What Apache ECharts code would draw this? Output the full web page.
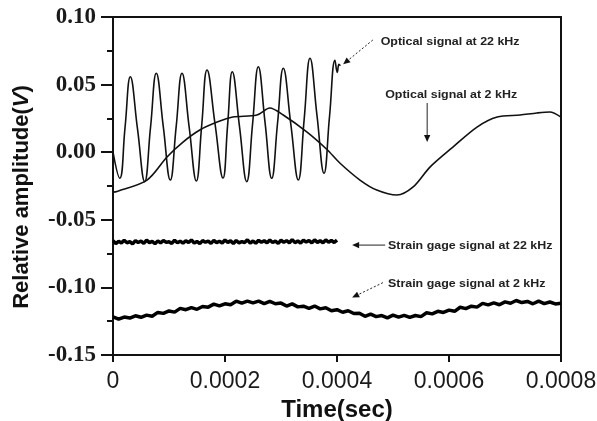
<!DOCTYPE html>
<html>
<head>
<meta charset="utf-8">
<script src="https://cdn.jsdelivr.net/npm/echarts@6/dist/echarts.min.js"></script>
<style>
  html, body { margin: 0; padding: 0; background: #fff; }
  #chart { width: 597px; height: 421px; }
</style>
</head>
<body>
<div id="chart"></div>
<script>
// Optical signal at 22 kHz: peaks, troughs and mid-swing crossings (time in s, amplitude in V)
const optical22kTime = [
  0, 0.0000120, 0.0000215, 0.0000309, 0.0000438, 0.0000566, 0.0000670, 0.0000773,
  0.0000898, 0.0001023, 0.0001128, 0.0001232, 0.0001360, 0.0001488, 0.0001584,
  0.0001679, 0.0001822, 0.0001964, 0.0002047, 0.0002130, 0.0002259, 0.0002388,
  0.0002492, 0.0002595, 0.0002715, 0.0002834, 0.0002938, 0.0003041, 0.0003175,
  0.0003309, 0.0003414, 0.0003518, 0.0003643, 0.0003768, 0.0003866, 0.0003964,
  0.0004005, 0.0004035, 0.0004060
];
const optical22kValue = [
  0.000, -0.0193, 0.0183, 0.0558, 0.0170, -0.0218, 0.0183, 0.0584,
  0.0189, -0.0206, 0.0189, 0.0584, 0.0186, -0.0213, 0.0198,
  0.0608, 0.0209, -0.0191, 0.0202, 0.0595, 0.0189, -0.0218,
  0.0207, 0.0632, 0.0220, -0.0193, 0.0214, 0.0621, 0.0208,
  -0.0206, 0.0245, 0.0695, 0.0270, -0.0156, 0.0262, 0.0680,
  0.0590, 0.0650, 0.0640
];

// Optical signal at 2 kHz
const optical2kTime = [
  0, 0.0000071, 0.0000607, 0.0000964, 0.000125, 0.000155, 0.000186, 0.000214,
  0.000257, 0.000280, 0.000304, 0.000346, 0.000382, 0.000405, 0.000441, 0.000471,
  0.000507, 0.000536, 0.000566, 0.000607, 0.000650, 0.000686, 0.000727, 0.000757,
  0.000780, 0.000800
];
const optical2kValue = [
  -0.0295, -0.0290, -0.0206, -0.0035, 0.0075, 0.0164, 0.0223, 0.0260,
  0.0275, 0.0327, 0.0275, 0.0150, 0.0020, -0.0080, -0.0206, -0.0280,
  -0.0317, -0.0257, -0.0110, 0.0038, 0.0186, 0.0260, 0.0275, 0.0290,
  0.0297, 0.0260
];

// Strain gage signal at 22 kHz, sampled every 5 microseconds from t = 0
const strain22kStep = 0.000005;
const strain22kValue = [
  -0.0655, -0.0676, -0.0659, -0.0672, -0.0652, -0.0670, -0.0661, -0.0678, -0.0654, -0.0668,
  -0.0657, -0.0674, -0.0650, -0.0669, -0.0660, -0.0677, -0.0656, -0.0671, -0.0653, -0.0667,
  -0.0662, -0.0675, -0.0651, -0.0670, -0.0658, -0.0673, -0.0655, -0.0668, -0.0649, -0.0672,
  -0.0660, -0.0676, -0.0654, -0.0666, -0.0657, -0.0674, -0.0652, -0.0669, -0.0659, -0.0671,
  -0.0650, -0.0667, -0.0656, -0.0675, -0.0653, -0.0670, -0.0661, -0.0668, -0.0648, -0.0672,
  -0.0657, -0.0673, -0.0652, -0.0666, -0.0655, -0.0671, -0.0649, -0.0668, -0.0658, -0.0674,
  -0.0651, -0.0667, -0.0654, -0.0670, -0.0647, -0.0669, -0.0656, -0.0672, -0.0650, -0.0665,
  -0.0653, -0.0671, -0.0648, -0.0667, -0.0655, -0.0670, -0.0649, -0.0666, -0.0652, -0.0668,
  -0.0650
];

// Strain gage signal at 2 kHz, sampled every 10 microseconds from t = 0
const strain2kStep = 0.00001;
const strain2kValue = [
  -0.1218, -0.1235, -0.1219, -0.1227, -0.1210, -0.1221, -0.1205, -0.1213, -0.1185, -0.1192,
  -0.1174, -0.1183, -0.1155, -0.1165, -0.1149, -0.1162, -0.1141, -0.1146, -0.1124, -0.1137,
  -0.1121, -0.1128, -0.1102, -0.1117, -0.1102, -0.1115, -0.1101, -0.1120, -0.1103, -0.1121,
  -0.1116, -0.1138, -0.1122, -0.1144, -0.1139, -0.1155, -0.1138, -0.1159, -0.1151, -0.1173,
  -0.1165, -0.1184, -0.1173, -0.1193, -0.1191, -0.1214, -0.1197, -0.1216, -0.1208, -0.1225,
  -0.1205, -0.1220, -0.1207, -0.1222, -0.1208, -0.1216, -0.1188, -0.1196, -0.1177, -0.1185,
  -0.1168, -0.1177, -0.1147, -0.1157, -0.1139, -0.1146, -0.1118, -0.1129, -0.1115, -0.1128,
  -0.1107, -0.1117, -0.1097, -0.1112, -0.1104, -0.1121, -0.1102, -0.1120, -0.1108, -0.1122,
  -0.1118
];

// Axis tick labels
const xTickLabels = ['0', '0.0002', '0.0004', '0.0006', '0.0008'];
const yTickLabels = ['-0.15', '-0.10', '-0.05', '0.00', '0.05', '0.10'];

// Callouts: label anchor, arrow start and arrow tip, in data units
const callouts = [
  { text: 'Optical signal at 22 kHz', at: [0.000478, 0.0815], from: [0.000464, 0.0830], to: [0.000411, 0.0650], dashed: true },
  { text: 'Optical signal at 2 kHz', at: [0.000486, 0.0423], from: [0.000561, 0.0364], to: [0.000561, 0.0075], dashed: false },
  { text: 'Strain gage signal at 22 kHz', at: [0.000491, -0.0695], from: [0.000486, -0.0687], to: [0.000427, -0.0687], dashed: false },
  { text: 'Strain gage signal at 2 kHz', at: [0.000491, -0.0975], from: [0.000482, -0.0965], to: [0.000427, -0.1075], dashed: true }
];

function pairs(ts, vs) { return vs.map((v, i) => [ts[i], v]); }
function sampled(step, vs) { return vs.map((v, i) => [i * step, v]); }

const chart = echarts.init(document.getElementById('chart'), null, { renderer: 'canvas' });

const lineBase = { type: 'line', showSymbol: false, symbol: 'none', animation: false, silent: true, xAxisIndex: 0, yAxisIndex: 0 };
const frameLine = { show: true, onZero: false, lineStyle: { color: '#111', width: 2 } };
const titleFont = { fontFamily: 'Liberation Sans', fontWeight: 'bold', fontSize: 22, color: '#111' };

chart.setOption({
  backgroundColor: '#fff',
  animation: false,
  grid: { left: 113, right: 36, top: 17, bottom: 66, containLabel: false, outerBoundsMode: 'none' },
  xAxis: [{
    type: 'value', position: 'bottom', min: 0, max: 0.0008, interval: 0.0002,
    name: 'Time(sec)', nameLocation: 'middle', nameGap: 40,
    nameTextStyle: { fontFamily: 'Liberation Sans', fontWeight: 'bold', fontSize: 24, color: '#111' },
    axisLine: frameLine,
    axisTick: { show: true, inside: false, length: 7, lineStyle: { color: '#111', width: 2 } },
    axisLabel: {
      margin: 15, fontFamily: 'Liberation Sans', fontSize: 23, color: '#1a1a1a',
      formatter: (v) => xTickLabels[Math.round(v / 0.0002)]
    },
    splitLine: { show: false }
  }, {
    type: 'value', position: 'top', min: 0, max: 0.0008,
    axisLine: frameLine, axisTick: { show: false }, axisLabel: { show: false }, splitLine: { show: false }
  }],
  yAxis: [{
    type: 'value', position: 'left', min: -0.15, max: 0.10, interval: 0.05,
    name: '{b|Relative amplitude(}{i|V}{b|)}', nameLocation: 'middle', nameGap: 80,
    nameTextStyle: Object.assign({}, titleFont, {
      padding: [0, 22, 0, 0],
      rich: {
        b: Object.assign({}, titleFont),
        i: Object.assign({}, titleFont, { fontStyle: 'italic' })
      }
    }),
    axisLine: frameLine,
    axisTick: { show: true, inside: false, length: 12, lineStyle: { color: '#111', width: 2 } },
    minorTick: { show: true, splitNumber: 2, length: 6, lineStyle: { color: '#111', width: 2 } },
    axisLabel: {
      margin: 17, fontFamily: 'Liberation Serif', fontWeight: 'bold', fontSize: 23, color: '#1a1a1a',
      formatter: (v) => yTickLabels[Math.round((v + 0.15) / 0.05)]
    },
    splitLine: { show: false },
    minorSplitLine: { show: false }
  }, {
    type: 'value', position: 'right', min: -0.15, max: 0.10,
    axisLine: frameLine, axisTick: { show: false }, axisLabel: { show: false }, splitLine: { show: false }
  }],
  series: [
    Object.assign({}, lineBase, { name: 'Optical 2 kHz', data: pairs(optical2kTime, optical2kValue), smooth: 0.3, lineStyle: { color: '#111', width: 1.6 } }),
    Object.assign({}, lineBase, { name: 'Optical 22 kHz', data: pairs(optical22kTime, optical22kValue), smooth: 0.45, lineStyle: { color: '#111', width: 1.6 } }),
    Object.assign({}, lineBase, { name: 'Strain 22 kHz', data: sampled(strain22kStep, strain22kValue), smooth: false, lineStyle: { color: '#000', width: 3.5 } }),
    Object.assign({}, lineBase, { name: 'Strain 2 kHz', data: sampled(strain2kStep, strain2kValue), smooth: false, lineStyle: { color: '#000', width: 3.5 } })
  ]
});

// Callout labels and arrows, placed from data coordinates
function arrowHead(tip, from, size) {
  const dx = tip[0] - from[0], dy = tip[1] - from[1];
  const len = Math.hypot(dx, dy) || 1;
  const ux = dx / len, uy = dy / len;
  const bx = tip[0] - ux * size, by = tip[1] - uy * size;
  const w = size * 0.45;
  return [[tip[0], tip[1]], [bx - uy * w, by + ux * w], [bx + uy * w, by - ux * w]];
}

const elements = [];
callouts.forEach((c) => {
  const at = chart.convertToPixel({ gridIndex: 0 }, c.at);
  const p0 = chart.convertToPixel({ gridIndex: 0 }, c.from);
  const p1 = chart.convertToPixel({ gridIndex: 0 }, c.to);
  elements.push({
    type: 'text', x: at[0], y: at[1], silent: true,
    style: { text: c.text, fill: '#222', font: 'bold 11px "Liberation Sans"', textVerticalAlign: 'middle', textAlign: 'left' },
    scaleX: 1.13
  });
  const head = arrowHead(p1, p0, 7);
  const lineEnd = [(head[1][0] + head[2][0]) / 2, (head[1][1] + head[2][1]) / 2];
  elements.push({
    type: 'line', silent: true,
    shape: { x1: p0[0], y1: p0[1], x2: lineEnd[0], y2: lineEnd[1] },
    style: { stroke: '#222', lineWidth: 1, lineDash: c.dashed ? [2, 2] : null }
  });
  elements.push({
    type: 'polygon', silent: true,
    shape: { points: head },
    style: { fill: '#111' }
  });
});
chart.setOption({ graphic: elements });
</script>
</body>
</html>
